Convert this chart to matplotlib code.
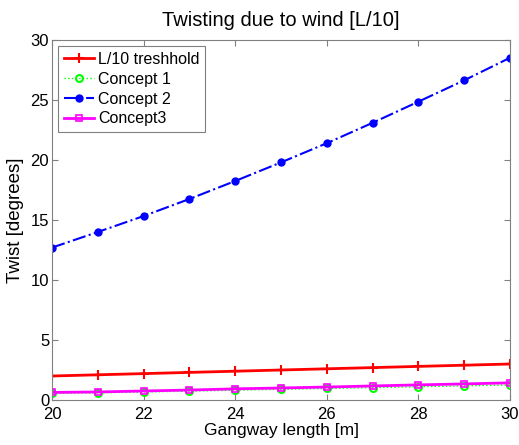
import numpy as np
import matplotlib
matplotlib.use("Agg")
import matplotlib.pyplot as plt

plt.rcParams["font.family"] = ["Liberation Sans", "DejaVu Sans"]

length = [20, 21, 22, 23, 24, 25, 26, 27, 28, 29, 30]
threshold = [2.0, 2.1, 2.2, 2.3, 2.4, 2.5, 2.6, 2.7, 2.8, 2.9, 3.0]
concept1 = [0.55, 0.60, 0.67, 0.74, 0.82, 0.89, 0.96, 1.03, 1.11, 1.18, 1.25]
concept2 = [12.7, 14.0, 15.33, 16.75, 18.25, 19.8, 21.4, 23.1, 24.86, 26.64, 28.52]
concept3 = [0.63, 0.67, 0.75, 0.83, 0.93, 1.0, 1.08, 1.17, 1.26, 1.34, 1.43]

fig = plt.figure(figsize=(5.19, 4.45), dpi=100)
ax = fig.add_axes([52 / 519, 45 / 445, 458 / 519, 360 / 445])

ax.plot(length, threshold, color="red", lw=2, marker="+", ms=7, mew=1.5, label="L/10 treshhold")
ax.plot(length, concept1, color="#00ff00", lw=1, ls=":", marker="o", ms=5, mfc="none", mew=1.5,
        label="Concept 1")
ax.plot(length, concept2, color="blue", lw=1.5, ls="-.", marker="o", ms=5, label="Concept 2")
ax.plot(length, concept3, color="magenta", lw=2, marker="s", ms=5, mfc="none", mew=1.2, label="Concept3")

ax.set_xlim(20, 30)
ax.set_ylim(0, 30)
ax.set_xticks(range(20, 31, 2))
ax.set_yticks(range(0, 31, 5))
ax.tick_params(direction="in", top=True, right=True, labelsize=12, color="#808080", length=4)
ax.tick_params(axis="x", pad=5)
ax.tick_params(axis="y", pad=2)
for s in ax.spines.values():
    s.set_color("#808080")

ax.set_title("Twisting due to wind [L/10]", fontsize=14.5, pad=10)
ax.set_xlabel("Gangway length [m]", fontsize=12.5, labelpad=1)
ax.set_ylabel("Twist [degrees]", fontsize=13.5, labelpad=5)

leg = ax.legend(loc="upper left", fontsize=11.5, fancybox=False, framealpha=1, edgecolor="#808080",
                borderpad=0.35, labelspacing=0.3, handlelength=1.9, handletextpad=0.25,
                borderaxespad=0.4)
leg.get_frame().set_linewidth(0.8)

fig.savefig("out.png", dpi=100)
